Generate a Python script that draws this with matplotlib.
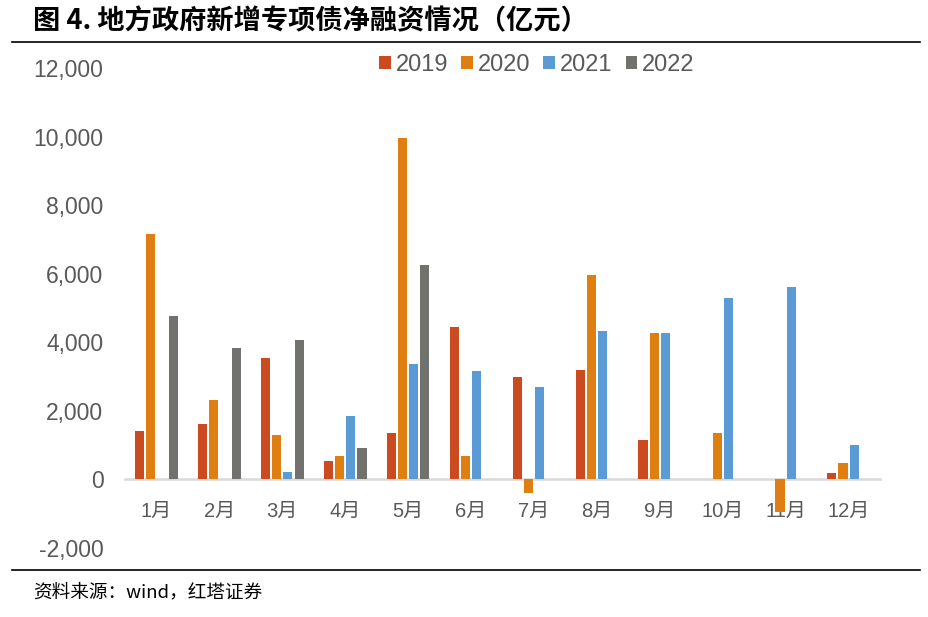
import matplotlib
matplotlib.use("Agg")
import matplotlib.pyplot as plt
import numpy as np

plt.rcParams['font.family'] = ['Liberation Sans', 'Noto Sans CJK SC', 'DejaVu Sans']

months = ['1月', '2月', '3月', '4月', '5月', '6月', '7月', '8月', '9月', '10月', '11月', '12月']
series_names = ['2019', '2020', '2021', '2022']
v2019 = [1400, 1630, 3550, 550, 1340, 4460, 3000, 3180, 1140, 10, 0, 180]
v2020 = [7150, 2330, 1310, 670, 9960, 670, -400, 5970, 4280, 1340, -950, 470]
v2021 = [20, 0, 230, 1860, 3380, 3150, 2710, 4340, 4280, 5300, 5620, 990]
v2022 = [4780, 3820, 4080, 930, 6260, np.nan, np.nan, np.nan, np.nan, np.nan, np.nan, np.nan]
colors = ['#CB4A20', '#DF7E11', '#5B9BD5', '#71716E']
yticks = [-2000, 0, 2000, 4000, 6000, 8000, 10000, 12000]

fig = plt.figure(figsize=(9.29, 6.17), dpi=100)
ax = fig.add_axes([125/929, 1 - 548/617, 755/929, 480/617])

x = np.arange(len(months))
w = 0.145
step = 0.178
data = [v2019, v2020, v2021, v2022]
for i, (name, vals, c) in enumerate(zip(series_names, data, colors)):
    ax.bar(x + (i - 1.5) * step, vals, width=w, color=c, label=name, zorder=2)

for s in ['top', 'right', 'left']:
    ax.spines[s].set_visible(False)
ax.spines['bottom'].set_position(('data', 0))
ax.spines['bottom'].set_color('#D9D9D9')
ax.spines['bottom'].set_linewidth(1.8)
ax.spines['bottom'].set_zorder(1)

ax.set_xlim(-0.5, 11.5)
ax.set_ylim(-2000, 12000)
ax.set_yticks(yticks)
ax.set_yticklabels([f'{t:,}' for t in yticks], fontsize=16.5, color='#595959')
ax.tick_params(axis='y', length=0, pad=15.5)
ax.set_xticks(x)
ax.set_xticklabels(months, fontsize=14.5, color='#595959')
ax.tick_params(axis='x', length=0, pad=16)

leg = fig.legend(loc='center', bbox_to_anchor=(537/929, 1 - 65/617), ncol=4, frameon=False,
                 fontsize=17, handlelength=0.5, handleheight=0.5, handletextpad=0.2,
                 columnspacing=0.55, labelcolor='#595959')

fig.text(33/929, 1 - 21/617, '图 4. 地方政府新增专项债净融资情况（亿元）', fontsize=19.6,
         fontweight='bold', va='center', ha='left',
         family=['Noto Sans CJK SC', 'DejaVu Sans'])
fig.add_artist(plt.Line2D([12/929, 920/929], [1 - 42/617, 1 - 42/617], color='black', lw=1.2))
fig.add_artist(plt.Line2D([12/929, 920/929], [1 - 570/617, 1 - 570/617], color='black', lw=1.2))
fig.text(33/929, 1 - 592/617, '资料来源：wind，红塔证券', fontsize=13.4, va='center', ha='left',
         family=['Noto Sans CJK SC', 'DejaVu Sans'])

fig.savefig('out.png', dpi=100)
